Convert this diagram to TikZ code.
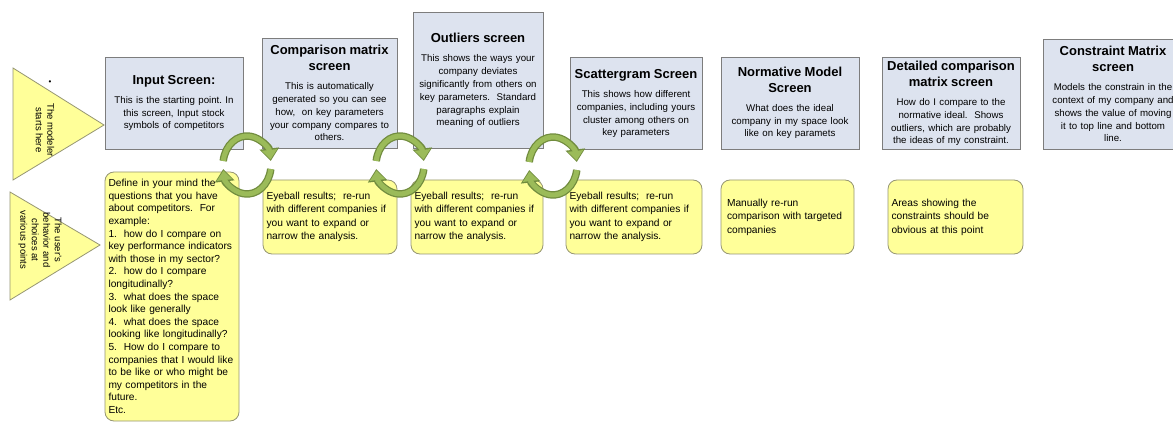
\documentclass[tikz,border=0pt]{standalone}
\usepackage{fontspec}
\setmainfont{Liberation Sans}
\usetikzlibrary{arrows.meta}
\frenchspacing

\definecolor{screenblue}{RGB}{221,227,239}
\definecolor{screenedge}{RGB}{125,125,125}
\definecolor{noteyellow}{RGB}{255,255,153}
\definecolor{noteedge}{RGB}{150,150,115}
\definecolor{cyclelight}{RGB}{155,187,89}
\definecolor{cycledark}{RGB}{113,140,62}

\newcommand{\scrtitle}[1]{\fontsize{13}{16}\selectfont\bfseries #1\par\vspace{6pt}\fontsize{9.7}{13}\selectfont\mdseries}

\begin{document}
\begin{tikzpicture}[x=1pt,y=1pt,
  screen/.style={draw=screenedge,fill=screenblue,line width=0.8pt,align=center,inner sep=0pt},
  note/.style={draw=noteedge,fill=noteyellow,line width=0.8pt,rounded corners=9pt,align=left,
    inner xsep=3.5pt,font=\fontsize{10.2}{13.5}\selectfont},
  pointer/.style={draw=noteedge,fill=noteyellow,line width=0.8pt},
  sidetext/.style={rotate=-90,align=center,font=\fontsize{9.5}{11.5}\selectfont},
  cycedge/.style={draw=cycledark,line width=7.5pt,-{Triangle[width=19pt,length=12.5pt]}},
  cycarrow/.style={draw=cyclelight,line width=5pt,shorten >=1.6pt,-{Triangle[width=15pt,length=9.5pt]}}]

\fill[white] (0,0) rectangle (1173,-422);
\useasboundingbox (0,0) rectangle (1173,-422);

\node[screen,minimum width=138,minimum height=92,text width=138] (inp) at (174,-103)
  {\scrtitle{Input Screen:}This is the starting point. In\\this screen, Input stock\\symbols of competitors};
\node[screen,minimum width=135,minimum height=110,text width=135] (cmp) at (329.5,-93)
  {\scrtitle{Comparison matrix\\screen}This is automatically\\generated so you can see\\how,~ on key parameters\\your company compares to\\others.};
\node[screen,minimum width=130,minimum height=136,text width=130] (outl) at (478,-80)
  {\scrtitle{Outliers screen}This shows the ways your\\company deviates\\significantly from others on\\key parameters.~ Standard\\paragraphs explain\\meaning of outliers};
\node[screen,minimum width=132,minimum height=92,text width=132] (scat) at (636,-103)
  {\scrtitle{Scattergram Screen}This shows how different\\companies, including yours\\cluster among others on\\key parameters};
\node[screen,minimum width=138,minimum height=92,text width=138] (norm) at (790,-103)
  {\scrtitle{Normative Model\\Screen}What does the ideal\\company in my space look\\like on key paramets};
\node[screen,minimum width=138,minimum height=92,text width=138] (det) at (951,-103)
  {\scrtitle{Detailed comparison\\matrix screen}How do I compare to the\\normative ideal.~ Shows\\outliers, which are probably\\the ideas of my constraint.};
\node[screen,minimum width=140,minimum height=110,text width=140] (cons) at (1113,-94)
  {\scrtitle{Constraint Matrix\\screen}Models the constrain in the\\context of my company and\\shows the value of moving\\it to top line and bottom\\line.};

\node[note,minimum width=134,minimum height=249,text width=127,font=\fontsize{10.2}{12.6}\selectfont] (defq) at (172,-296.5)
  {Define in your mind the\\questions that you have\\about competitors.~ For\\example:\\1.~ how do I compare on\\key performance indicators\\with those in my sector?\\2.~ how do I compare\\longitudinally?\\3.~ what does the space\\look like generally\\4.~ what does the space\\looking like longitudinally?\\5.~ How do I compare to\\companies that I would like\\to be like or who might be\\my competitors in the\\future.\\Etc.};
\node[note,minimum width=134,minimum height=74,text width=127] (eye1) at (330,-217)
  {Eyeball results;~ re-run\\with different companies if\\you want to expand or\\narrow the analysis.};
\node[note,minimum width=132,minimum height=74,text width=125] (eye2) at (477,-217)
  {Eyeball results;~ re-run\\with different companies if\\you want to expand or\\narrow the analysis.};
\node[note,minimum width=136,minimum height=74,text width=129] (eye3) at (634,-217)
  {Eyeball results;~ re-run\\with different companies if\\you want to expand or\\narrow the analysis.};
\node[note,minimum width=133,minimum height=74,text width=121,inner xsep=6pt] (man) at (787.5,-217)
  {Manually re-run\\comparison with targeted\\companies};
\node[note,minimum width=135,minimum height=74,text width=128] (area) at (955.5,-217)
  {Areas showing the\\constraints should be\\obvious at this point};

\filldraw[pointer] (13,-68) -- (104,-125) -- (13,-180) -- cycle;
\filldraw[pointer] (10,-192) -- (100,-245) -- (10,-300) -- cycle;
\node[sidetext] (modeler) at (45,-130) {The modeler\\starts here};
\node[sidetext] (user) at (40,-240) {The user's\\behavior and\\choices at\\various points};
\node[font=\fontsize{8}{8}\selectfont] (dot) at (50,-83) {\textbullet};

\coordinate (cyc1) at (247,-165);
\coordinate (cyc2) at (400,-165);
\coordinate (cyc3) at (553,-166);
\foreach \c in {cyc1,cyc2,cyc3}{
  \draw[cycedge] (\c) ++(172:24 and 29) arc[start angle=172,end angle=8,x radius=24,y radius=29];
  \draw[cycedge] (\c) ++(-8:24 and 29) arc[start angle=-8,end angle=-172,x radius=24,y radius=29];
  \draw[cycarrow] (\c) ++(172:24 and 29) arc[start angle=172,end angle=8,x radius=24,y radius=29];
  \draw[cycarrow] (\c) ++(-8:24 and 29) arc[start angle=-8,end angle=-172,x radius=24,y radius=29];
}
\end{tikzpicture}
\end{document}
